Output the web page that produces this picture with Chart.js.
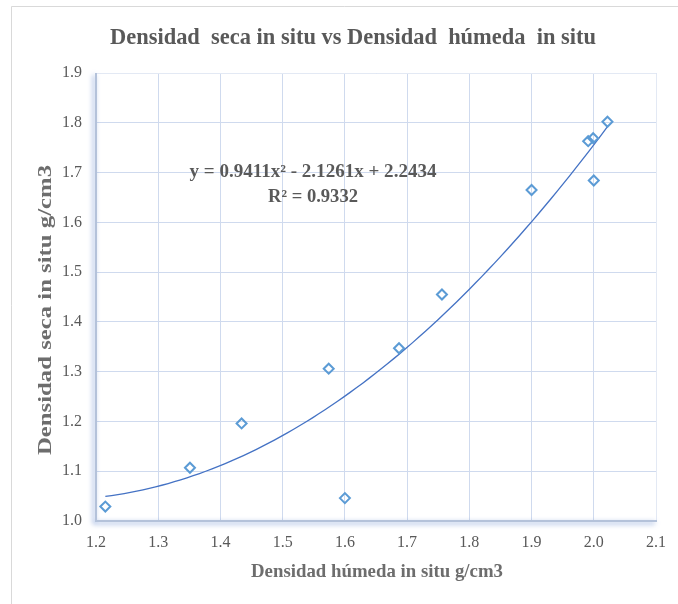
<!DOCTYPE html>
<html>
<head>
<meta charset="utf-8">
<script src="https://cdn.jsdelivr.net/npm/chart.js@4.4.1/dist/chart.umd.min.js"></script>
<style>
  html, body { margin: 0; padding: 0; background: #ffffff; }
  #wrap { width: 678px; height: 604px; }
</style>
</head>
<body>
<div id="wrap"><canvas id="c" width="678" height="604"></canvas></div>
<script>
// Measured samples: wet density (x) and dry density (y), g/cm3
const densidadHumeda = [1.215, 1.351, 1.434, 1.574, 1.600, 1.687, 1.756, 1.900, 1.991, 1.999, 2.000, 2.022];
const densidadSeca   = [1.029, 1.107, 1.196, 1.306, 1.046, 1.347, 1.455, 1.665, 1.763, 1.769, 1.684, 1.802];

// Polynomial trendline (order 2) coefficients: a*x^2 + b*x + c
const trendCoef = [0.9411, -2.1261, 2.2434];
const trendR2 = 0.9332;

const xTicks = [1.2, 1.3, 1.4, 1.5, 1.6, 1.7, 1.8, 1.9, 2.0, 2.1];
const yTicks = [1.0, 1.1, 1.2, 1.3, 1.4, 1.5, 1.6, 1.7, 1.8, 1.9];

const titleText = 'Densidad  seca in situ vs Densidad  húmeda  in situ';
const xTitleText = 'Densidad húmeda in situ g/cm3';
const yTitleText = 'Densidad seca in situ g/cm3';
const eqText = 'y = ' + trendCoef[0] + 'x² - ' + Math.abs(trendCoef[1]) + 'x + ' + trendCoef[2];
const r2Text = 'R² = ' + trendR2;

const points = densidadHumeda.map((x, i) => ({ x: x, y: densidadSeca[i] }));

// Trendline sampled across the data range
const xMin = Math.min(...densidadHumeda), xMax = Math.max(...densidadHumeda);
const trend = [];
for (let i = 0; i <= 80; i++) {
  const x = xMin + (xMax - xMin) * i / 80;
  trend.push({ x: x, y: trendCoef[0] * x * x + trendCoef[1] * x + trendCoef[2] });
}

const SERIF = '"Liberation Serif", "Times New Roman", serif';

// Draw text squeezed horizontally to a given width
function fitText(ctx, text, cx, cy, font, color, width, rot) {
  ctx.save();
  ctx.font = font;
  ctx.fillStyle = color;
  ctx.textAlign = 'center';
  ctx.textBaseline = 'middle';
  const w = ctx.measureText(text).width;
  const sx = width / w;
  ctx.translate(cx, cy);
  if (rot) ctx.rotate(rot);
  ctx.scale(sx, 1);
  ctx.fillText(text, 0, 0);
  ctx.restore();
}

const decor = {
  id: 'decor',
  beforeDraw(chart) {
    const ctx = chart.ctx;
    ctx.save();
    ctx.fillStyle = '#ffffff';
    ctx.fillRect(0, 0, chart.width, chart.height);
    // outer chart frame
    ctx.strokeStyle = '#d9d9d9';
    ctx.lineWidth = 1;
    ctx.beginPath();
    ctx.moveTo(11.5, chart.height);
    ctx.lineTo(11.5, 6.5);
    ctx.lineTo(chart.width, 6.5);
    ctx.stroke();
    ctx.restore();
  },
  beforeDatasetsDraw(chart) {
    const ctx = chart.ctx;
    const a = chart.chartArea;
    ctx.save();
    // faint top/right plot edges
    ctx.strokeStyle = '#e3e9f4';
    ctx.lineWidth = 1;
    ctx.beginPath();
    ctx.moveTo(a.left, a.top + 0.5);
    ctx.lineTo(a.right + 0.5, a.top + 0.5);
    ctx.lineTo(a.right + 0.5, a.bottom);
    ctx.stroke();
    // left/bottom plot edges with soft blue shadow
    ctx.shadowColor = 'rgba(80,120,200,0.65)';
    ctx.shadowBlur = 5;
    ctx.shadowOffsetX = -2;
    ctx.shadowOffsetY = 2;
    ctx.strokeStyle = '#b4c2da';
    ctx.lineWidth = 2;
    ctx.beginPath();
    ctx.moveTo(a.left, a.top);
    ctx.lineTo(a.left, a.bottom);
    ctx.lineTo(a.right + 1, a.bottom);
    ctx.stroke();
    ctx.restore();
  },
  afterDraw(chart) {
    const ctx = chart.ctx;
    fitText(ctx, titleText, 353, 38, 'bold 24px ' + SERIF, '#595959', 486, 0);
    fitText(ctx, xTitleText, 377, 572, 'bold 19px ' + SERIF, '#6d6d6d', 252, 0);
    fitText(ctx, yTitleText, 46, 310, 'bold 18px ' + SERIF, '#6d6d6d', 290, -Math.PI / 2);
    fitText(ctx, eqText, 313, 172, 'bold 18px ' + SERIF, '#595959', 247, 0);
    fitText(ctx, r2Text, 313, 197, 'bold 18px ' + SERIF, '#595959', 90, 0);
  }
};

const gridColor = '#cfdaee';

new Chart(document.getElementById('c'), {
  type: 'scatter',
  data: {
    datasets: [
      {
        label: 'Densidad seca',
        data: points,
        pointStyle: 'rectRot',
        pointRadius: 5,
        pointHoverRadius: 5,
        pointBorderWidth: 2,
        pointBorderColor: '#5b9bd5',
        pointBackgroundColor: 'rgba(255,255,255,0)',
        showLine: false,
        order: 1
      },
      {
        label: 'Polinómica',
        data: trend,
        showLine: true,
        borderColor: '#4472c4',
        borderWidth: 1.3,
        pointRadius: 0,
        tension: 0,
        fill: false,
        order: 2
      }
    ]
  },
  options: {
    responsive: false,
    animation: false,
    devicePixelRatio: 1,
    layout: { padding: { left: 0, top: 73, right: 20, bottom: 0 } },
    plugins: {
      legend: { display: false },
      tooltip: { enabled: false },
      title: { display: false }
    },
    scales: {
      x: {
        type: 'linear',
        min: xTicks[0],
        max: xTicks[xTicks.length - 1],
        afterBuildTicks(s) { s.ticks = xTicks.map(v => ({ value: v })); },
        afterFit(s) { s.height = 83; },
        ticks: {
          padding: 12,
          color: '#595959',
          font: { family: SERIF, size: 16 },
          callback: v => Number(v).toFixed(1)
        },
        grid: { color: gridColor, lineWidth: 1, drawTicks: false },
        border: { display: false }
      },
      y: {
        type: 'linear',
        min: yTicks[0],
        max: yTicks[yTicks.length - 1],
        afterBuildTicks(s) { s.ticks = yTicks.map(v => ({ value: v })); },
        afterFit(s) { s.width = 96; },
        ticks: {
          padding: 14,
          color: '#595959',
          font: { family: SERIF, size: 16 },
          callback: v => Number(v).toFixed(1)
        },
        grid: { color: gridColor, lineWidth: 1, drawTicks: false },
        border: { display: false }
      }
    }
  },
  plugins: [decor]
});
</script>
</body>
</html>
